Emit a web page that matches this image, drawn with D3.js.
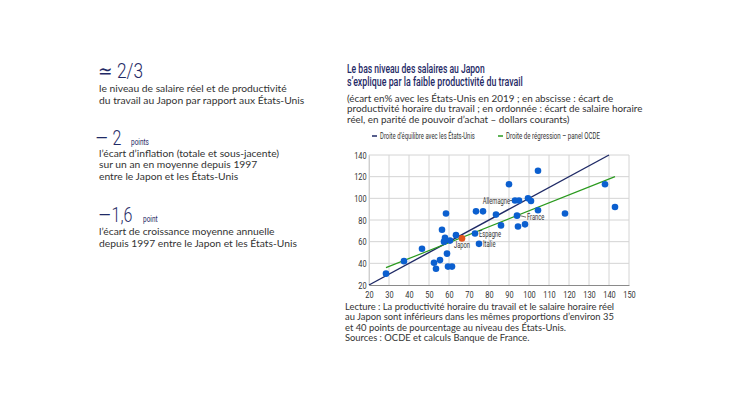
<!DOCTYPE html>
<html><head><meta charset="utf-8">
<script src="https://cdn.jsdelivr.net/npm/d3@7"></script>
<style>
html,body{margin:0;padding:0;background:#fff;}
svg{display:block;}
</style></head>
<body>
<svg id="c" width="730" height="410"></svg>
<script>
// ---- data ----
const xTicks = [20,30,40,50,60,70,80,90,100,110,120,130,140,150];
const yTicks = [20,40,60,80,100,120,140];
const pointX = [28.5,37.5,46.5,52.5,53.5,55.5,56.5,58.5,58,57.5,59,59.5,61.5,60.5,63.5,73,75,73.5,77,83.5,86,90,93,95,99.5,101,94,94.5,98,104.5,104.5,118,138,143];
const pointY = [30.5,42,53.5,40.5,35,43,71,86,63.5,60,49,37,37,61,66,67.5,58,88,88,85,75,113,98,98,100,97.5,84,74,76,125.5,89,86,113,92];
const pointName = ["","","","","","","","","","","","","","","","Espagne","Italie","","","","","","Allemagne","","","","France","","","","","","",""];
const japanX = [66.5], japanY = [63], japanName = ["Japon"];
const eqLineX = [20,140], eqLineY = [20,140];
const regLineX = [28.5,143], regLineY = [36,120];
const legendLabels = ["Droite d\u2019\u00e9quilibre avec les \u00c9tats-Unis","Droite de r\u00e9gression \u2013 panel OCDE"];

const NAVY = "#1f2a66", BLUE = "#0b5fcf", GREEN = "#2a9a1e", ORANGE = "#e2541b", TXT = "#333333";
const COND = "Roboto,'Liberation Sans',sans-serif";
const BODY = "'Lato','Open Sans',sans-serif";

const svg = d3.select("#c");

// condensed text: draw at origin, then squeeze horizontally to a target width or factor
function condText(g, x, y, txt, opts) {
  const t = g.append("text").attr("fill", opts.fill || TXT)
    .style("font-family", COND).style("font-size", opts.size + "px")
    .style("font-weight", opts.weight || 400)
    .attr("text-anchor", opts.anchor || "start").text(txt);
  let s = opts.scale || 0.75;
  if (opts.width) s = opts.width / t.node().getComputedTextLength();
  t.attr("transform", `translate(${x},${y}) scale(${s},1)`);
  return t;
}

// ---- left column ----
const left = svg.append("g");
function bigDash(x, y, rest, small, sx) {
  const t = left.append("text").attr("fill", NAVY).style("font-family", COND)
    .style("font-weight", 300).attr("transform", `translate(${x},${y}) scale(0.8,1)`);
  t.append("tspan").style("font-size", "26px").attr("dy", 1.5).text("\u2013");
  t.append("tspan").style("font-size", "20px").attr("dy", -1.5).text(rest);
  if (small) condText(left, sx, y, small, {size: 9, weight: 400, fill: NAVY, scale: 0.72});
}
function para(x, y, lines) {
  lines.forEach((l, i) => left.append("text").attr("x", x).attr("y", y + i * 11.8)
    .attr("fill", TXT).style("font-family", BODY).style("font-size", "10.3px").text(l));
}
condText(left, 98, 78, "\u2243 2/3", {size: 20, weight: 300, fill: NAVY, width: 45});
para(99, 92, ["le niveau de salaire r\u00e9el et de productivit\u00e9", "du travail au Japon par rapport aux \u00c9tats-Unis"]);
bigDash(95, 145, " 2", "points", 131);
para(99, 156.5, ["l\u2019\u00e9cart d\u2019inflation (totale et sous-jacente)", "sur un an en moyenne depuis 1997", "entre le Japon et les \u00c9tats-Unis"]);
bigDash(98, 222, "1,6", "point", 143);
para(99, 235, ["l\u2019\u00e9cart de croissance moyenne annuelle", "depuis 1997 entre le Japon et les \u00c9tats-Unis"]);

// ---- right title ----
const r = svg.append("g");
const titleW = [138, 176];
["Le bas niveau des salaires au Japon", "s\u2019explique par la faible productivit\u00e9 du travail"].forEach((l, i) =>
  condText(r, 347, 73 + i * 12.5, l, {size: 12, weight: 500, fill: NAVY, width: titleW[i]}));
["(\u00e9cart en% avec les \u00c9tats-Unis en 2019 ; en abscisse : \u00e9cart de",
 "productivit\u00e9 horaire du travail ; en ordonn\u00e9e : \u00e9cart de salaire horaire",
 "r\u00e9el, en parit\u00e9 de pouvoir d\u2019achat \u2013 dollars courants)"].forEach((l, i) =>
  r.append("text").attr("x", 347).attr("y", 101.5 + i * 10.5).attr("fill", TXT)
    .style("font-family", BODY).style("font-size", "9.85px").text(l));

// legend
const legX = [372, 498], legC = [NAVY, GREEN], legW = [95, 94];
legendLabels.forEach((l, i) => {
  r.append("line").attr("x1", legX[i]).attr("x2", legX[i] + 5).attr("y1", 136).attr("y2", 136)
    .attr("stroke", legC[i]).attr("stroke-width", 1.5);
  condText(r, legX[i] + 8, 139, l, {size: 8.5, width: legW[i]});
});

// ---- plot ----
const x = d3.scaleLinear().domain([20, 150]).range([369, 629]);
const y = d3.scaleLinear().domain([20, 140]).range([285, 155]);
const p = svg.append("g");

p.append("g").selectAll("line").data(xTicks).join("line")
  .attr("x1", d => x(d)).attr("x2", d => x(d)).attr("y1", y(20)).attr("y2", y(140))
  .attr("stroke", "#d4d4d4").attr("stroke-width", 1);
p.append("g").selectAll("line").data(yTicks.slice(1)).join("line")
  .attr("x1", x(20)).attr("x2", x(150)).attr("y1", d => y(d)).attr("y2", d => y(d))
  .attr("stroke", "#d4d4d4").attr("stroke-width", 1);

const xAxis = p.append("g").attr("transform", `translate(0,${y(20)})`)
  .call(d3.axisBottom(x).tickValues(xTicks).tickSize(0).tickPadding(6));
const yAxis = p.append("g").attr("transform", `translate(${x(20)},0)`)
  .call(d3.axisLeft(y).tickValues(yTicks).tickSize(0).tickPadding(3));
[xAxis, yAxis].forEach(a => {
  a.selectAll("text").attr("fill", TXT).style("font-family", COND).style("font-size", "9.5px")
    .attr("transform", "scale(0.78,1)");
});
xAxis.selectAll(".tick text").attr("x", 0);
xAxis.select(".domain").attr("stroke", "#8a8a8a");
yAxis.select(".domain").attr("stroke", "#cfcfcf");

// lines
const lineGen = d3.line().x(d => x(d[0])).y(d => y(d[1]));
p.append("path").datum(eqLineX.map((v, i) => [v, eqLineY[i]])).attr("d", lineGen)
  .attr("stroke", NAVY).attr("stroke-width", 1.4).attr("fill", "none");
p.append("path").datum(regLineX.map((v, i) => [v, regLineY[i]])).attr("d", lineGen)
  .attr("stroke", GREEN).attr("stroke-width", 1.2).attr("fill", "none");

// points
const pts = pointX.map((v, i) => ({x: v, y: pointY[i], n: pointName[i]}));
p.append("g").selectAll("circle").data(pts).join("circle")
  .attr("cx", d => x(d.x)).attr("cy", d => y(d.y)).attr("r", 3.3).attr("fill", BLUE);
const jp = japanX.map((v, i) => ({x: v, y: japanY[i], n: japanName[i]}));
p.append("g").selectAll("circle").data(jp).join("circle")
  .attr("cx", d => x(d.x)).attr("cy", d => y(d.y)).attr("r", 3.3).attr("fill", ORANGE);

// labels
const lab = p.append("g");
const LS = 0.68;
pts.filter(d => d.n).forEach(d => {
  const cx = x(d.x), cy = y(d.y);
  if (d.n === "Allemagne") {
    lab.append("line").attr("x1", cx - 5).attr("x2", cx - 3).attr("y1", cy).attr("y2", cy).attr("stroke", TXT).attr("stroke-width", 0.7);
    condText(lab, cx - 5, cy + 3, d.n, {size: 8.5, scale: LS, anchor: "end"});
  } else if (d.n === "France") {
    lab.append("line").attr("x1", cx + 3).attr("x2", cx + 9).attr("y1", cy).attr("y2", cy + 1.5).attr("stroke", TXT).attr("stroke-width", 0.7);
    condText(lab, cx + 10, cy + 4, d.n, {size: 8.5, scale: LS});
  } else {
    condText(lab, cx + 4, cy + 3, d.n, {size: 8.5, scale: LS});
  }
});
jp.forEach(d => condText(lab, x(d.x), y(d.y) + 10, d.n, {size: 8.5, scale: LS, anchor: "middle"}));

// footnote
["Lecture : La productivit\u00e9 horaire du travail et le salaire horaire r\u00e9el",
 "au Japon sont inf\u00e9rieurs dans les m\u00eames proportions d\u2019environ 35",
 "et 40 points de pourcentage au niveau des \u00c9tats-Unis.",
 "Sources : OCDE et calculs Banque de France."].forEach((l, i) =>
  r.append("text").attr("x", 345).attr("y", 310 + i * 10.3).attr("fill", TXT)
    .style("font-family", BODY).style("font-size", "9.4px").text(l));
</script>
</body></html>
